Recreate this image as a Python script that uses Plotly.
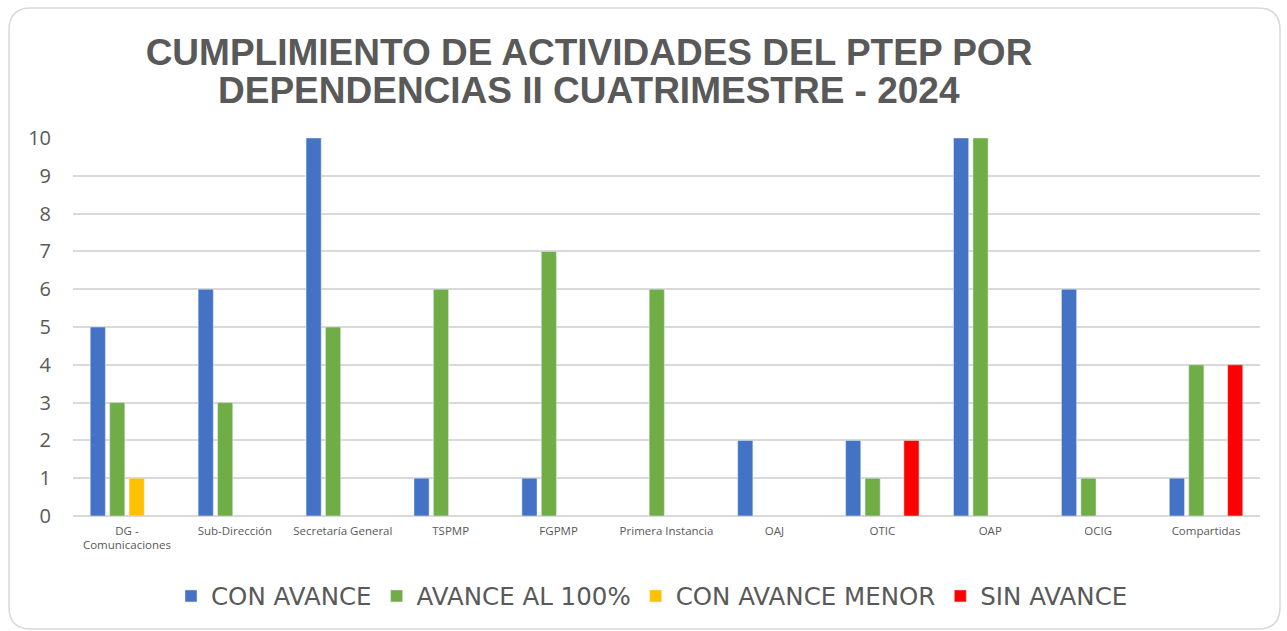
import plotly.graph_objects as go

categories = ["DG -<br>Comunicaciones", "Sub-Dirección", "Secretaría General", "TSPMP", "FGPMP",
              "Primera Instancia", "OAJ", "OTIC", "OAP", "OCIG", "Compartidas"]
con_avance = [5, 6, 10, 1, 1, None, 2, 2, 10, 6, 1]
avance_100 = [3, 3, 5, 6, 7, 6, None, 1, 10, 1, 4]
con_avance_menor = [1, None, None, None, None, None, None, None, None, None, None]
sin_avance = [None, None, None, None, None, None, None, 2, None, None, 4]

title_line1 = "CUMPLIMIENTO DE ACTIVIDADES DEL PTEP POR"
title_line2 = "DEPENDENCIAS II CUATRIMESTRE - 2024"

series = [
    ("CON AVANCE", con_avance, "#4472C4"),
    ("AVANCE AL 100%", avance_100, "#70AD47"),
    ("CON AVANCE MENOR", con_avance_menor, "#FFC000"),
    ("SIN AVANCE", sin_avance, "#FF0000"),
]

W, H = 1287, 631
L, R, T, B = 73, 27, 138, 115

fig = go.Figure()
for name, vals, col in series:
    fig.add_trace(go.Bar(x=categories, y=vals, name=name, marker_color=col))

pw = W - L - R
ph = H - T - B


def px(x):
    return (x - L) / pw


def py(y):
    return (H - B - y) / ph


x0, x1, y0, y1, r = 9, 1280, 8, 629, 22
path = (f"M {px(x0 + r)},{py(y0)} L {px(x1 - r)},{py(y0)} "
        f"Q {px(x1)},{py(y0)} {px(x1)},{py(y0 + r)} L {px(x1)},{py(y1 - r)} "
        f"Q {px(x1)},{py(y1)} {px(x1 - r)},{py(y1)} L {px(x0 + r)},{py(y1)} "
        f"Q {px(x0)},{py(y1)} {px(x0)},{py(y1 - r)} L {px(x0)},{py(y0 + r)} "
        f"Q {px(x0)},{py(y0)} {px(x0 + r)},{py(y0)} Z")

title_font = dict(family="Liberation Sans, Arial", size=37, color="#595959", weight="bold")

fig.update_layout(
    width=W, height=H,
    margin=dict(l=L, r=R, t=T, b=B, autoexpand=False),
    paper_bgcolor="white", plot_bgcolor="white",
    barmode="group", bargap=0.28, bargroupgap=0.22,
    title=dict(
        text=title_line1, font=title_font,
        x=589 / W, xref="container", xanchor="center",
        y=1 - 52 / H, yref="container", yanchor="middle",
    ),
    annotations=[dict(
        text=title_line2, font=title_font, showarrow=False,
        x=px(589), xref="paper", xanchor="center",
        y=py(91), yref="paper", yanchor="middle",
    )],
    xaxis=dict(
        tickfont=dict(family="Open Sans, Noto Sans", size=11.5, color="#595959"),
        showgrid=False, showline=False, ticks="", ticklabelstandoff=6,
    ),
    yaxis=dict(
        range=[0, 10], dtick=1, tick0=0,
        tickfont=dict(family="Open Sans, Noto Sans", size=20, color="#595959"),
        showgrid=True, gridcolor="#d9d9d9", gridwidth=2,
        zeroline=True, zerolinecolor="#d9d9d9", zerolinewidth=2,
        ticks="", ticklabelstandoff=21,
    ),
    legend=dict(
        orientation="h", x=652 / W, xref="container", xanchor="center",
        y=1 - 596 / H, yref="container", yanchor="middle",
        font=dict(family="DejaVu Sans, Verdana", size=24.5, color="#595959"),
        itemwidth=30, traceorder="normal",
    ),
    shapes=[dict(type="path", path=path, xref="paper", yref="paper",
                 line=dict(color="#d9d9d9", width=1.5), layer="below")],
)

fig.write_html("out.html", config={"displayModeBar": False},
               post_script="document.body.style.margin='0px';")
